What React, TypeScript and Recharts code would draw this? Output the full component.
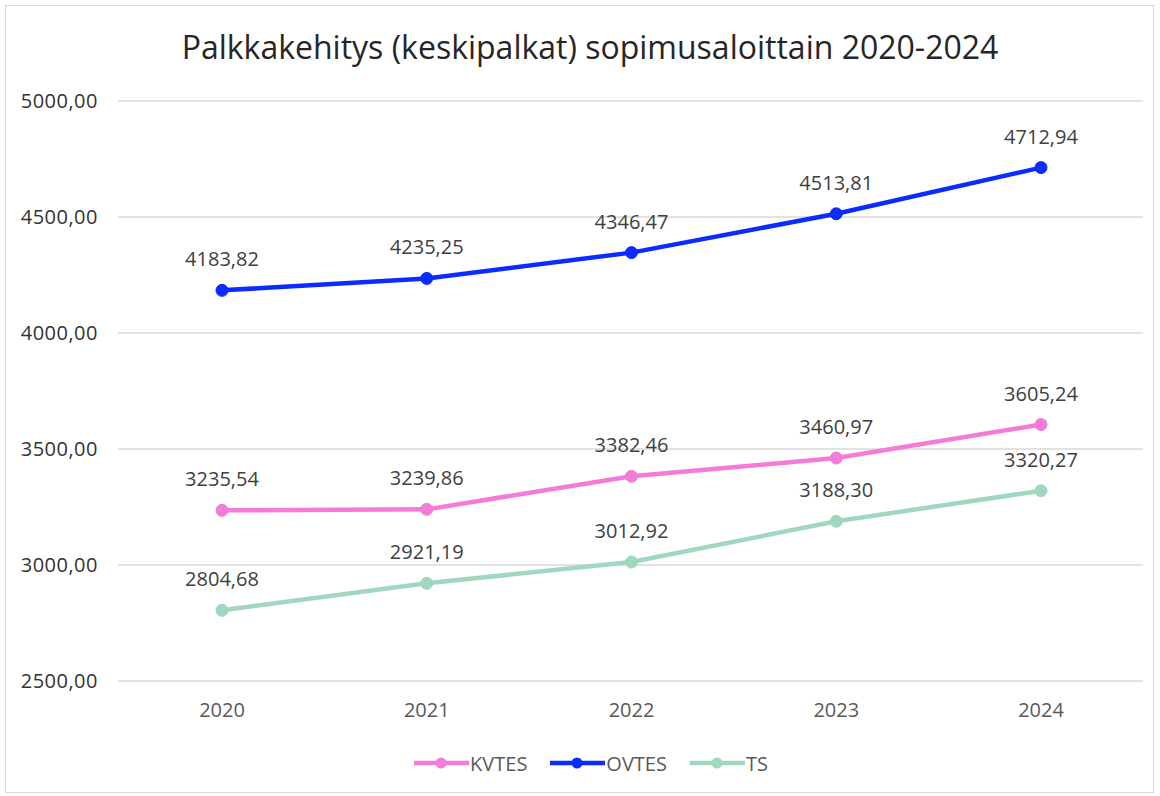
import React from "react";
import {
  LineChart,
  Line,
  XAxis,
  YAxis,
  CartesianGrid,
  Legend,
  LabelList,
} from "recharts";

const years = ["2020", "2021", "2022", "2023", "2024"];
const kvtes = [3235.54, 3239.86, 3382.46, 3460.97, 3605.24];
const ovtes = [4183.82, 4235.25, 4346.47, 4513.81, 4712.94];
const ts = [2804.68, 2921.19, 3012.92, 3188.3, 3320.27];
const yTicks = [2500, 3000, 3500, 4000, 4500, 5000];

const series = [
  { key: "KVTES", color: "#f47bd7" },
  { key: "OVTES", color: "#0c2bff" },
  { key: "TS", color: "#9fd8bd" },
];

const data = years.map((year, i) => ({
  year,
  KVTES: kvtes[i],
  OVTES: ovtes[i],
  TS: ts[i],
}));

const FONT = "'Open Sans', 'Noto Sans', sans-serif";
const fmt = (v: any) => Number(v).toFixed(2).replace(".", ",");

const LegendContent = () => (
  <div
    style={{
      display: "flex",
      justifyContent: "center",
      alignItems: "center",
      height: 24,
      paddingLeft: 38,
      fontFamily: FONT,
      fontSize: 20,
      color: "#595959",
      gap: 22,
    }}
  >
    {series.map((s) => (
      <div key={s.key} style={{ display: "flex", alignItems: "center" }}>
        <svg width={57} height={14}>
          <line x1={1} y1={7} x2={56} y2={7} stroke={s.color} strokeWidth={4.5} />
          <circle cx={28} cy={7} r={5.5} fill={s.color} />
        </svg>
        <span>{s.key}</span>
      </div>
    ))}
  </div>
);

export default function App() {
  return (
    <div
      style={{
        position: "absolute",
        left: 0,
        top: 0,
        width: 1160,
        height: 796,
        background: "#fff",
      }}
    >
      <div
        style={{
          position: "absolute",
          left: 5,
          top: 5,
          width: 1147,
          height: 786,
          border: "1px solid #d9d9d9",
        }}
      />
      <div
        style={{
          position: "absolute",
          left: 0,
          top: 25,
          width: 1180,
          textAlign: "center",
          fontFamily: FONT,
          fontSize: 32,
          color: "#262626",
        }}
      >
        Palkkakehitys (keskipalkat) sopimusaloittain 2020-2024
      </div>
      <div style={{ position: "absolute", left: 0, top: 0 }}>
        <LineChart
          width={1160}
          height={796}
          data={data}
          margin={{ top: 101, right: 17, left: 0, bottom: 21 }}
        >
          <CartesianGrid vertical={false} stroke="#d9d9d9" strokeWidth={1.5} />
          <XAxis
            dataKey="year"
            axisLine={false}
            tickLine={false}
            tickSize={0}
            tickMargin={22}
            height={70}
            padding={{ left: 104, right: 102 }}
            tick={{ fill: "#595959", fontSize: 20, fontFamily: FONT }}
          />
          <YAxis
            domain={[2500, 5000]}
            ticks={yTicks}
            axisLine={false}
            tickLine={false}
            tickSize={0}
            tickMargin={20}
            width={118}
            tickFormatter={fmt}
            tick={{ fill: "#333333", fontSize: 20, fontFamily: FONT, letterSpacing: 0.5 }}
          />
          <Legend verticalAlign="bottom" height={24} content={<LegendContent />} />
          {series.map((s) => (
            <Line
              key={s.key}
              dataKey={s.key}
              stroke={s.color}
              strokeWidth={4.5}
              type="linear"
              dot={{ r: 6, fill: s.color, stroke: s.color, strokeWidth: 1 }}
              isAnimationActive={false}
            >
              <LabelList
                dataKey={s.key}
                position="top"
                offset={24}
                formatter={fmt}
                style={{ fill: "#404040", fontSize: 20, fontFamily: FONT }}
              />
            </Line>
          ))}
        </LineChart>
      </div>
    </div>
  );
}
